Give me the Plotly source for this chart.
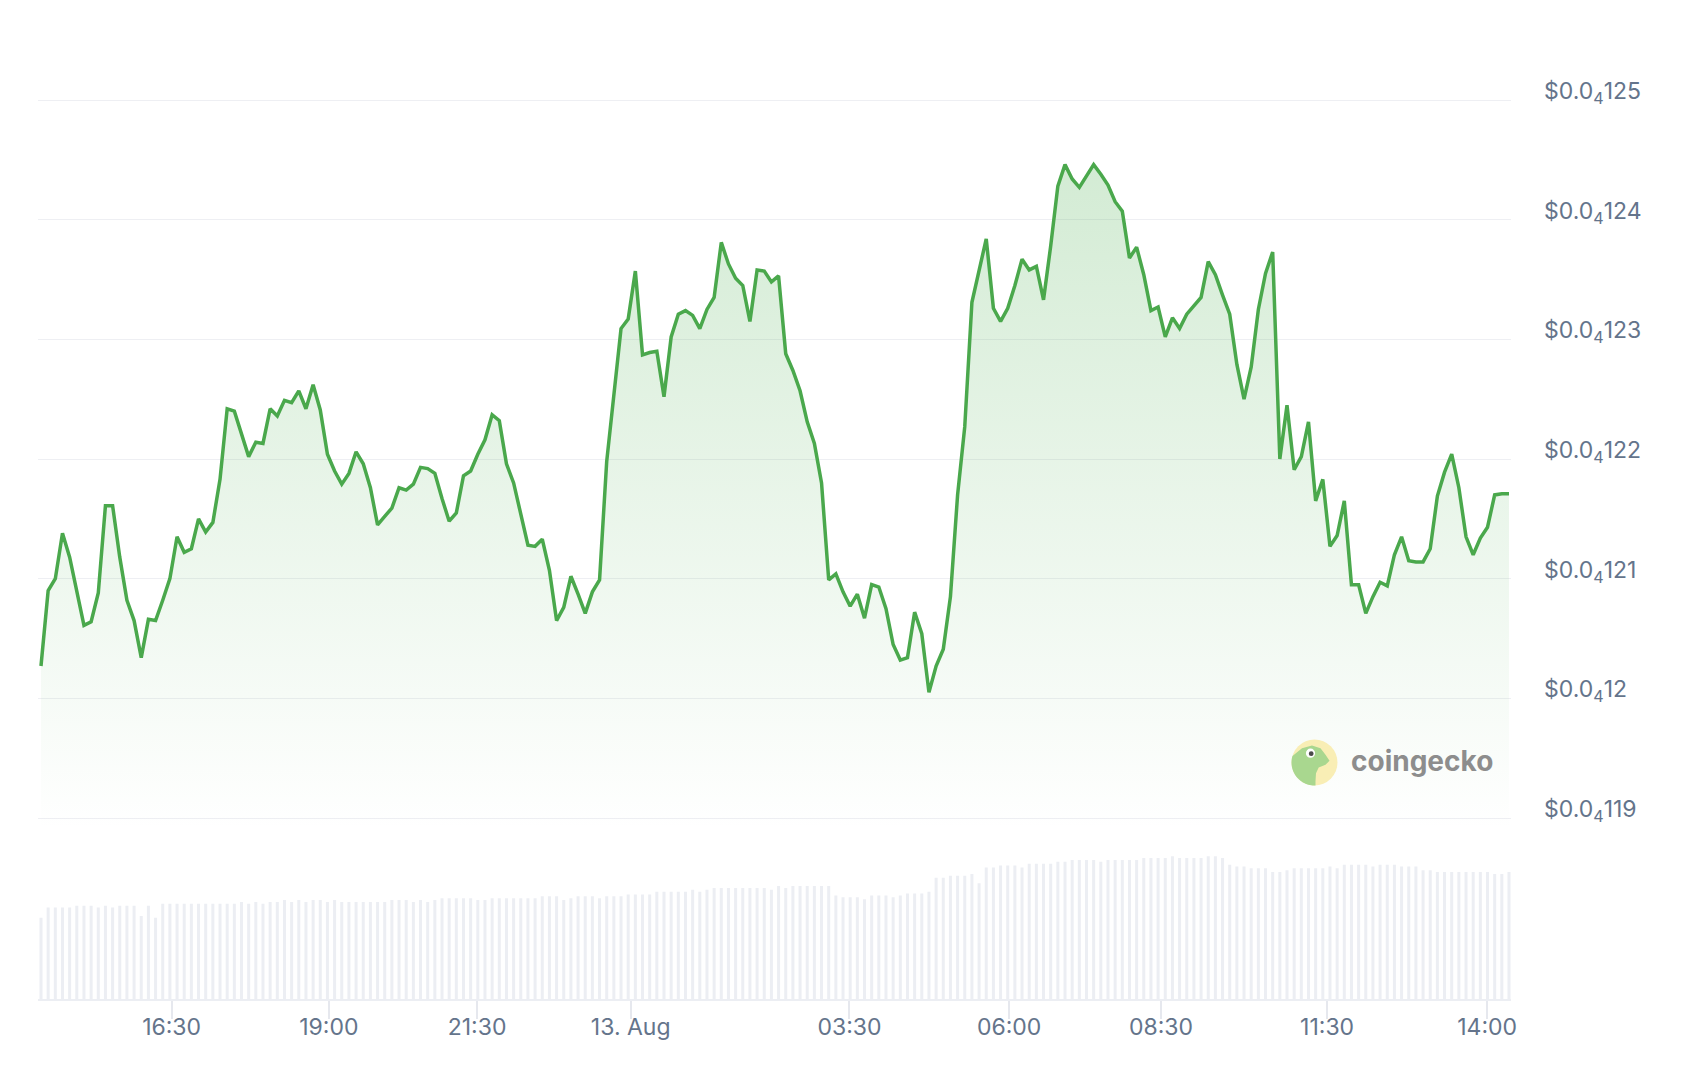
import math
import plotly.graph_objects as go

# ---------------- data ----------------
# price in units of 1e-7 USD (i.e. 121.0 -> $0.0000121)
prices_e7 = [
    120.27, 120.9, 121.0, 121.38, 121.18, 120.89, 120.61, 120.64, 120.88, 121.61,
    121.61, 121.18, 120.82, 120.65, 120.34, 120.66, 120.65, 120.82, 121.0, 121.35,
    121.22, 121.25, 121.5, 121.39, 121.47, 121.83, 122.42, 122.40, 122.21, 122.02,
    122.14, 122.13, 122.42, 122.36, 122.49, 122.47, 122.57, 122.42, 122.62, 122.41,
    122.04, 121.9, 121.79, 121.88, 122.06, 121.96, 121.76, 121.45, 121.52, 121.59,
    121.76, 121.74, 121.79, 121.93, 121.92, 121.88, 121.67, 121.48, 121.55, 121.86,
    121.9, 122.04, 122.16, 122.37, 122.32, 121.96, 121.8, 121.55, 121.28, 121.27,
    121.33, 121.07, 120.65, 120.76, 121.02, 120.87, 120.71, 120.89, 120.99, 121.98,
    122.54, 123.09, 123.17, 123.57, 122.87, 122.89, 122.9, 122.52, 123.02, 123.21,
    123.24, 123.2, 123.09, 123.25, 123.35, 123.81, 123.63, 123.51, 123.45, 123.15,
    123.58, 123.57, 123.48, 123.53, 122.88, 122.74, 122.57, 122.31, 122.13, 121.8,
    120.99, 121.04, 120.89, 120.77, 120.87, 120.67, 120.95, 120.93, 120.75, 120.45,
    120.32, 120.34, 120.72, 120.54, 120.05, 120.27, 120.41, 120.85, 121.7, 122.27,
    123.31, 123.58, 123.84, 123.26, 123.15, 123.26, 123.45, 123.67, 123.58, 123.61,
    123.33, 123.78, 124.28, 124.46, 124.34, 124.27, 124.37, 124.46, 124.38, 124.29,
    124.15, 124.07, 123.68, 123.77, 123.54, 123.24, 123.27, 123.02, 123.18, 123.09,
    123.21, 123.28, 123.35, 123.65, 123.54, 123.37, 123.21, 122.79, 122.5, 122.77,
    123.25, 123.55, 123.73, 122.0, 122.45, 121.91, 122.02, 122.31, 121.65, 121.83,
    121.27, 121.36, 121.65, 120.95, 120.95, 120.71, 120.85, 120.97, 120.94, 121.2,
    121.35, 121.15, 121.14, 121.14, 121.25, 121.69, 121.89, 122.04, 121.76, 121.35,
    121.2, 121.34, 121.43, 121.7, 121.71, 121.71,
]

# trading volume (relative units)
volumes = [
    87, 98, 98, 98, 98, 100, 100, 100, 98, 100,
    98, 100, 100, 100, 89, 100, 87, 102, 102, 102,
    102, 102, 102, 102, 102, 102, 102, 102, 104, 102,
    104, 102, 104, 104, 106, 104, 106, 104, 106, 106,
    104, 106, 104, 104, 104, 104, 104, 104, 104, 106,
    106, 106, 104, 106, 104, 106, 108, 108, 108, 108,
    108, 106, 106, 108, 108, 108, 108, 108, 108, 108,
    110, 110, 110, 106, 108, 110, 110, 110, 108, 110,
    110, 110, 112, 112, 112, 112, 115, 115, 115, 115,
    115, 117, 115, 117, 119, 119, 119, 119, 119, 119,
    119, 119, 117, 121, 119, 121, 121, 121, 121, 121,
    121, 111, 109, 109, 109, 107, 111, 111, 111, 109,
    111, 113, 113, 113, 115, 130, 130, 132, 132, 132,
    134, 124, 141, 141, 143, 143, 143, 141, 145, 145,
    145, 145, 147, 147, 149, 149, 149, 149, 147, 149,
    149, 149, 149, 149, 151, 151, 151, 151, 153, 151,
    151, 151, 151, 153, 153, 151, 144, 142, 142, 140,
    140, 140, 136, 136, 138, 140, 140, 140, 140, 140,
    142, 140, 144, 144, 144, 144, 142, 144, 144, 144,
    142, 142, 142, 138, 138, 136, 136, 136, 136, 136,
    136, 136, 136, 134, 134, 136,
]

x_tick_labels = ["16:30", "19:00", "21:30", "13. Aug", "03:30", "06:00", "08:30", "11:30", "14:00"]
x_tick_index = [18.24, 40.2, 60.9, 82.35, 112.9, 135.2, 156.4, 179.6, 201.95]

y_tick_e7 = [119, 120, 121, 122, 123, 124, 125]
y_tick_labels = ["$0.0<sub>4</sub>119", "$0.0<sub>4</sub>12", "$0.0<sub>4</sub>121",
                 "$0.0<sub>4</sub>122", "$0.0<sub>4</sub>123", "$0.0<sub>4</sub>124",
                 "$0.0<sub>4</sub>125"]

# ---------------- figure geometry ----------------
PAGE_W, PAGE_H = 1684, 1070
OFF = 8                      # default body margin of the html page
W, H = PAGE_W - 2 * OFF, PAGE_H - 2 * OFF


def fx(page_x):
    return (page_x - OFF) / W


def fy(page_y):
    return 1 - (page_y - OFF) / H


idx = list(range(len(prices_e7)))
price = [p * 1e-7 for p in prices_e7]

GREEN = "#4aa84c"
LABEL = "#64748b"
FONT = "Inter"

fig = go.Figure()

fig.add_trace(go.Scatter(
    x=idx, y=price, mode="lines",
    line=dict(color=GREEN, width=3.5),
    fill="tozeroy",
    fillgradient=dict(type="vertical",
                      start=118.9e-7, stop=125.0e-7,
                      colorscale=[[0, "rgba(76,175,80,0)"], [1, "rgba(76,175,80,0.27)"]]),
    xaxis="x", yaxis="y", hoverinfo="skip", showlegend=False,
))

fig.add_trace(go.Bar(
    x=idx, y=volumes, width=0.42,
    marker=dict(color="#eceef3", line=dict(width=0)),
    xaxis="x2", yaxis="y2", hoverinfo="skip", showlegend=False,
))

x_dom = [fx(37.7), fx(1511)]
x_range = [-0.46, 205.28]

fig.update_layout(
    width=W, height=H,
    margin=dict(l=0, r=0, t=0, b=0, autoexpand=False),
    paper_bgcolor="white", plot_bgcolor="rgba(0,0,0,0)",
    font=dict(family=FONT, color=LABEL, size=23),
    xaxis=dict(domain=x_dom, range=x_range, anchor="y", automargin=False,
               showgrid=False, zeroline=False, showticklabels=False, showline=False),
    yaxis=dict(domain=[fy(830), fy(90)], range=[118.8997e-7, 125.0836e-7],
               side="right", anchor="x", automargin=False,
               tickvals=[v * 1e-7 for v in y_tick_e7], ticktext=y_tick_labels,
               showgrid=True, gridcolor="#eeeff3", gridwidth=1.2,
               zeroline=False, showline=False, ticks="",
               ticklabelstandoff=32, ticklabelshift=-9,
               tickfont=dict(family=FONT, size=23, color=LABEL)),
    xaxis2=dict(domain=x_dom, range=x_range, anchor="y2", matches="x", automargin=False,
                tickvals=x_tick_index, ticktext=x_tick_labels,
                ticks="outside", ticklen=18, tickwidth=1.5, tickcolor="#e6e8ee",
                ticklabelstandoff=-12,
                showline=True, linecolor="#eceef3", linewidth=2,
                showgrid=False, zeroline=False,
                tickfont=dict(family=FONT, size=23, color=LABEL)),
    yaxis2=dict(domain=[fy(999), fy(849.7)], range=[0, 160], anchor="x2",
                automargin=False, visible=False),
)

# ---------------- coingecko watermark ----------------
cx, cy, r = 1314.5, 762.5, 23.0
shapes = [dict(type="circle", xref="paper", yref="paper",
               x0=fx(cx - r), y0=fy(cy + r), x1=fx(cx + r), y1=fy(cy - r),
               fillcolor="#f9eeb5", line=dict(width=0), layer="above")]

outline = [(-22.0, -6.5), (-12.5, -14.3), (-2.5, -17.0), (6.0, -14.3), (11.0, -7.7),
           (15.0, -1.7), (11.0, 2.3), (4.2, 5.0), (1.5, 10.7), (1.0, 19.0), (1.0, 23.0)]
a_start = math.atan2(23.0, 1.0)
a_end = math.atan2(-6.5, -22.0) + 2 * math.pi
arc = [(r * math.cos(a_start + (a_end - a_start) * k / 30),
        r * math.sin(a_start + (a_end - a_start) * k / 30)) for k in range(31)]
pts = outline + arc
path = "M " + " L ".join("{:.5f},{:.5f}".format(fx(cx + dx), fy(cy + dy)) for dx, dy in pts) + " Z"
shapes.append(dict(type="path", xref="paper", yref="paper", path=path,
                   fillcolor="#a9d78f", line=dict(width=0), layer="above"))

for (ex, ey, er, col) in [(-4.0, -9.3, 4.6, "#ffffff"), (-3.3, -8.8, 2.4, "#4a4a4a")]:
    shapes.append(dict(type="circle", xref="paper", yref="paper",
                       x0=fx(cx + ex - er), y0=fy(cy + ey + er),
                       x1=fx(cx + ex + er), y1=fy(cy + ey - er),
                       fillcolor=col, line=dict(width=0), layer="above"))

fig.update_layout(shapes=shapes)
fig.add_annotation(x=fx(1422), y=fy(761), xref="paper", yref="paper", text="<b>coingecko</b>",
                   showarrow=False, xanchor="center", yanchor="middle",
                   font=dict(family=FONT, size=28, color="#8d8d8d"))

fig.write_html("out.html")
